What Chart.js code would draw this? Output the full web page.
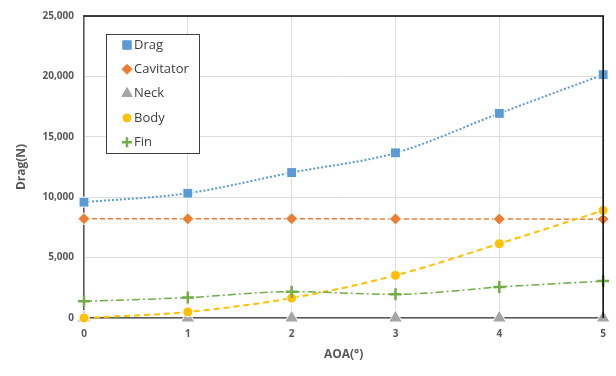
<!DOCTYPE html>
<html>
<head>
<meta charset="utf-8">
<script src="https://cdn.jsdelivr.net/npm/chart.js@4/dist/chart.umd.min.js"></script>
<style>
  html, body { margin: 0; padding: 0; background: #fff; }
  #wrap { width: 616px; height: 376px; }
</style>
</head>
<body>
<div id="wrap"><canvas id="dragChart" width="616" height="376"></canvas></div>
<script>
// AOA in degrees
const aoa = [0, 1, 2, 3, 4, 5]
const drag = [9590, 10330, 12040, 13670, 16940, 20140]
const cavitator = [8220, 8210, 8220, 8200, 8190, 8180]
const neck = [0, 0, 0, 0, 0, 0]
const body = [0, 500, 1650, 3530, 6150, 8900]
const fin = [1380, 1690, 2180, 1960, 2560, 3060]
const yTicks = [0, 5000, 10000, 15000, 20000, 25000]

const toPts = arr => arr.map((v, i) => ({ x: aoa[i], y: v }))

const series = [
  { label: "Drag", data: drag, color: "#5b9bd5", style: "rect", r: 7, dash: [2, 2], lw: 2, line: true },
  { label: "Cavitator", data: cavitator, color: "#ed7d31", style: "rectRot", r: 6, dash: [5, 3], lw: 1.5, line: true },
  { label: "Neck", data: neck, color: "#a5a5a5", style: "triangle", r: 8, dash: [], lw: 1.5, line: false },
  { label: "Body", data: body, color: "#ffc000", style: "circle", r: 5, dash: [6, 4], lw: 2, line: true },
  { label: "Fin", data: fin, color: "#70ad47", style: "cross", r: 6, dash: [8, 3, 2, 3], lw: 1.5, line: true }
]

// legend box + top/right frame
const boxPlugin = {
  id: "boxPlugin",
  afterDatasetsDraw(chart) {
    const ctx = chart.ctx
    const a = chart.chartArea
    ctx.save()
    ctx.strokeStyle = "#000"
    ctx.lineWidth = 1.5
    ctx.beginPath()
    ctx.moveTo(a.left, a.top)
    ctx.lineTo(a.right, a.top)
    ctx.lineTo(a.right, a.bottom)
    ctx.stroke()

    // legend
    ctx.fillStyle = "#fff"
    ctx.fillRect(106.5, 34.5, 93, 119)
    ctx.strokeStyle = "#404040"
    ctx.lineWidth = 1
    ctx.strokeRect(106.5, 34.5, 93, 119)
    ctx.font = "13px 'Open Sans', 'Liberation Sans', sans-serif"
    ctx.textBaseline = "middle"
    series.forEach((s, i) => {
      const y = 45 + i * 24.3
      ctx.fillStyle = s.color
      ctx.strokeStyle = s.color
      ctx.lineWidth = s.style === "cross" ? 2.5 : 1
      Chart.helpers.drawPoint(ctx, { pointStyle: s.style, radius: Math.min(s.r, 7) - 1, borderWidth: ctx.lineWidth }, 127, y)
      ctx.fillStyle = "#404040"
      ctx.fillText(s.label, 134, y)
    })
    ctx.restore()
  }
}

const tickFont = { family: "'Open Sans', 'Liberation Sans', sans-serif", size: 10, weight: "bold" }

const chart = new Chart(document.getElementById("dragChart"), {
  type: "scatter",
  data: {
    datasets: series.map((s, i) => ({
      label: s.label,
      data: toPts(s.data),
      showLine: s.line,
      borderColor: s.color,
      backgroundColor: s.color,
      borderWidth: s.lw,
      borderDash: s.dash,
      tension: 0.4,
      cubicInterpolationMode: "monotone",
      pointStyle: s.style,
      pointRadius: s.r,
      pointBorderWidth: s.style === "cross" ? 2.5 : 1,
      pointBackgroundColor: s.color,
      pointBorderColor: s.style === "cross" ? s.color : "#ffffff",
      pointHoverRadius: s.r,
      clip: false,
      order: 5 - i
    }))
  },
  options: {
    responsive: false,
    animation: false,
    layout: { padding: { top: 16, right: 12, left: 0, bottom: 0 } },
    plugins: { legend: { display: false }, tooltip: { enabled: false } },
    scales: {
      x: {
        type: "linear",
        min: 0,
        max: 5,
        ticks: { stepSize: 1, color: "#595959", font: tickFont, padding: 10 },
        grid: { color: "#dddddd", drawTicks: false },
        border: { color: "#595959", width: 1.5 },
        title: {
          display: true,
          text: "AOA(°)",
          color: "#595959",
          font: { family: "'Open Sans', 'Liberation Sans', sans-serif", size: 12, weight: "bold" },
          padding: { top: 4, bottom: 14 }
        },
        afterFit(scale) { scale.height = 58 }
      },
      y: {
        min: 0,
        max: 25000,
        afterBuildTicks(scale) { scale.ticks = yTicks.map(v => ({ value: v })) },
        ticks: {
          color: "#595959",
          font: tickFont,
          padding: 10,
          callback: v => v.toLocaleString("en-US")
        },
        grid: { color: "#dddddd", drawTicks: false },
        border: { color: "#595959", width: 1.5 },
        title: {
          display: true,
          text: "Drag(N)",
          color: "#595959",
          font: { family: "'Open Sans', 'Liberation Sans', sans-serif", size: 12, weight: "bold" },
          padding: { top: 14, bottom: 4 }
        },
        afterFit(scale) { scale.width = 84 }
      }
    }
  },
  plugins: [boxPlugin]
})
</script>
</body>
</html>
